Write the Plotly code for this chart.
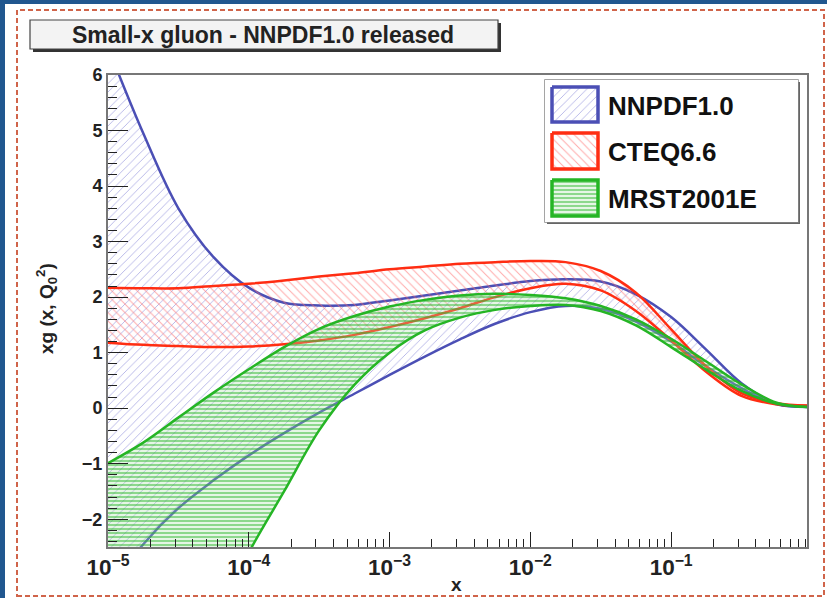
import plotly.graph_objects as go

# ---------------- data ----------------
x_vals = [1.0e-5, 1.78e-5, 3.16e-5, 5.62e-5, 1.0e-4, 1.78e-4, 3.16e-4, 5.62e-4,
          1.0e-3, 1.78e-3, 3.16e-3, 5.62e-3, 1.0e-2, 1.78e-2, 3.16e-2, 5.62e-2,
          0.1, 0.178, 0.316, 0.562, 0.93]

nnpdf_up = [6.5, 4.95, 3.6, 2.72, 2.17, 1.90, 1.85, 1.86, 1.94, 2.03, 2.12,
            2.21, 2.29, 2.32, 2.28, 2.05, 1.64, 1.05, 0.45, 0.08, 0.04]
nnpdf_lo = [-3.3, -2.45, -1.8, -1.3, -0.85, -0.45, -0.08, 0.26, 0.6, 0.93, 1.24,
            1.52, 1.73, 1.84, 1.79, 1.56, 1.2, 0.75, 0.36, 0.07, 0.02]

cteq_up = [2.17, 2.16, 2.16, 2.2, 2.24, 2.3, 2.37, 2.43, 2.5, 2.55, 2.6,
           2.63, 2.65, 2.63, 2.47, 2.08, 1.42, 0.75, 0.27, 0.09, 0.05]
cteq_lo = [1.18, 1.14, 1.12, 1.1, 1.11, 1.15, 1.22, 1.32, 1.46, 1.62, 1.8,
           2.0, 2.16, 2.24, 2.12, 1.75, 1.22, 0.65, 0.22, 0.07, 0.04]

mrst_up = [-0.99, -0.62, -0.17, 0.28, 0.7, 1.1, 1.43, 1.66, 1.83, 1.95, 2.03,
           2.06, 2.04, 1.98, 1.84, 1.6, 1.25, 0.84, 0.43, 0.1, 0.02]
mrst_lo = [-8.5, -6.8, -5.3, -3.9, -2.6, -1.5, -0.4, 0.42, 1.0, 1.4, 1.63,
           1.77, 1.84, 1.86, 1.75, 1.49, 1.1, 0.69, 0.31, 0.08, 0.02]

series_names = ["NNPDF1.0", "CTEQ6.6", "MRST2001E"]
title_text = "Small-x gluon - NNPDF1.0 released"
y_title = "xg (x, Q<sub>0</sub><sup>2</sup>)"
x_title = "x"

# ---------------- styles ----------------
W, H = 827, 598
L, R, T, B = 108, 20, 75, 51
PW, PH = W - L - R, H - T - B


def xp(px):
    return (px - L) / PW


def yp(py):
    return (H - B - py) / PH


FONT = "Liberation Sans, Arial, Helvetica, sans-serif"

styles = [
    dict(line="#4b4fb5", fg="rgba(115,115,210,0.55)", bg="rgba(0,0,0,0)", shape="/", size=6, sol=0.15),
    dict(line="#ff2d12", fg="rgba(255,110,110,0.6)", bg="rgba(0,0,0,0)", shape="\\", size=6, sol=0.16),
    dict(line="#25b525", fg="rgba(40,185,40,0.6)", bg="rgba(170,225,170,0.3)", shape="-", size=4, sol=0.4),
]
bands = [(nnpdf_lo, nnpdf_up), (cteq_lo, cteq_up), (mrst_lo, mrst_up)]

fig = go.Figure()

for (lo, up), st, name in zip(bands, styles, series_names):
    fig.add_trace(go.Scatter(
        x=x_vals, y=lo, mode="lines", name=name, showlegend=False,
        line=dict(color=st["line"], width=2.5, shape="spline", smoothing=1.0),
    ))
    fig.add_trace(go.Scatter(
        x=x_vals, y=up, mode="lines", name=name, showlegend=False,
        fill="tonexty", fillcolor="rgba(0,0,0,0)",
        fillpattern=dict(shape=st["shape"], fgcolor=st["fg"], bgcolor=st["bg"],
                         size=st["size"], solidity=st["sol"], fillmode="replace"),
        line=dict(color=st["line"], width=2.5, shape="spline", smoothing=1.0),
    ))

# ---------------- legend swatches (own small axes) ----------------
LX0, LX1, LY0, LY1 = 545, 798, 80, 222
sw_y = [(87, 122), (133, 169), (180, 216)]
for (y0, y1), st, name in zip(sw_y, styles, series_names):
    fig.add_trace(go.Scatter(
        x=[552, 598, 598, 552, 552], y=[y0, y0, y1, y1, y0],
        xaxis="x2", yaxis="y2", mode="lines", showlegend=False, name=name,
        fill="toself", fillcolor="rgba(0,0,0,0)",
        fillpattern=dict(shape=st["shape"], fgcolor=st["fg"], bgcolor=st["bg"],
                         size=st["size"], solidity=st["sol"], fillmode="replace"),
        line=dict(color=st["line"], width=3.5),
    ))

shapes = []
# outer dark blue bands
shapes.append(dict(type="rect", xref="paper", yref="paper", x0=xp(0), x1=xp(5), y0=yp(598), y1=yp(0),
                   fillcolor="#21578f", line=dict(width=0), layer="above"))
shapes.append(dict(type="rect", xref="paper", yref="paper", x0=xp(0), x1=xp(827), y0=yp(4), y1=yp(0),
                   fillcolor="#21578f", line=dict(width=0), layer="above"))
# dashed red frame
shapes.append(dict(type="rect", xref="paper", yref="paper", x0=xp(17), x1=xp(824), y0=yp(596), y1=yp(10),
                   fillcolor="rgba(0,0,0,0)", line=dict(color="#d0644a", width=2, dash="5px,3px"),
                   layer="above"))
# title box shadow + box
shapes.append(dict(type="rect", xref="paper", yref="paper", x0=xp(33), x1=xp(501), y0=yp(52), y1=yp(23),
                   fillcolor="#333333", line=dict(width=0)))
shapes.append(dict(type="rect", xref="paper", yref="paper", x0=xp(30), x1=xp(498), y0=yp(49), y1=yp(20),
                   fillcolor="#f3f3f3", line=dict(color="#444444", width=1.2)))
# legend box shadow + box
shapes.append(dict(type="rect", xref="paper", yref="paper", x0=xp(LX0 + 2), x1=xp(LX1 + 2), y0=yp(LY1 + 2), y1=yp(LY0 + 2),
                   fillcolor="#666666", line=dict(width=0), layer="below"))
shapes.append(dict(type="rect", xref="paper", yref="paper", x0=xp(LX0), x1=xp(LX1), y0=yp(LY1), y1=yp(LY0),
                   fillcolor="white", line=dict(color="#888888", width=1.5), layer="below"))

annotations = [
    dict(text=title_text, xref="paper", yref="paper", x=xp(263), y=yp(35), showarrow=False,
         xanchor="center", yanchor="middle", font=dict(family=FONT, size=23, color="#222222", weight="bold")),
    dict(text=y_title, xref="paper", yref="paper", x=xp(46), y=yp(308), showarrow=False, textangle=-90,
         xanchor="center", yanchor="middle", font=dict(family=FONT, size=19, color="#222222", weight="bold")),
    dict(text=x_title, xref="paper", yref="paper", x=xp(456), y=yp(584), showarrow=False,
         xanchor="center", yanchor="middle", font=dict(family=FONT, size=19, color="#222222", weight="bold")),
]
for (y0, y1), name in zip(sw_y, series_names):
    annotations.append(dict(text=name, xref="paper", yref="paper", x=xp(606), y=yp((y0 + y1) / 2 + 1),
                            showarrow=False, xanchor="left", yanchor="middle",
                            font=dict(family=FONT, size=26, color="#111111", weight="bold")))

fig.update_layout(
    width=W, height=H, margin=dict(l=L, r=R, t=T, b=B),
    paper_bgcolor="white", plot_bgcolor="white",
    showlegend=False,
    xaxis=dict(type="log", range=[-5, -0.035], dtick=1, exponentformat="power",
               showgrid=False, zeroline=False, showline=True, mirror=True,
               linecolor="#777777", linewidth=2, ticks="inside", ticklen=15, tickwidth=1.2,
               tickcolor="#222222",
               minor=dict(dtick="D1", ticks="inside", ticklen=8, tickwidth=1.2, tickcolor="#222222",
                          showgrid=False),
               tickfont=dict(family=FONT, size=18, color="#222222", weight="bold")),
    yaxis=dict(range=[-2.5, 6], dtick=1, showgrid=False, zeroline=False, showline=True, mirror=True,
               linecolor="#777777", linewidth=2, ticks="inside", ticklen=20, tickwidth=1.2,
               tickcolor="#222222",
               minor=dict(dtick=0.2, ticks="inside", ticklen=9, tickwidth=1.2, tickcolor="#222222",
                          showgrid=False),
               tickfont=dict(family=FONT, size=18, color="#222222", weight="bold")),
    xaxis2=dict(domain=[xp(LX0), xp(LX1)], range=[LX0, LX1], anchor="y2", visible=False,
                fixedrange=True),
    yaxis2=dict(domain=[yp(LY1), yp(LY0)], range=[LY1, LY0], anchor="x2", visible=False,
                fixedrange=True),
    shapes=shapes,
    annotations=annotations,
)

fig.write_html("out.html")
